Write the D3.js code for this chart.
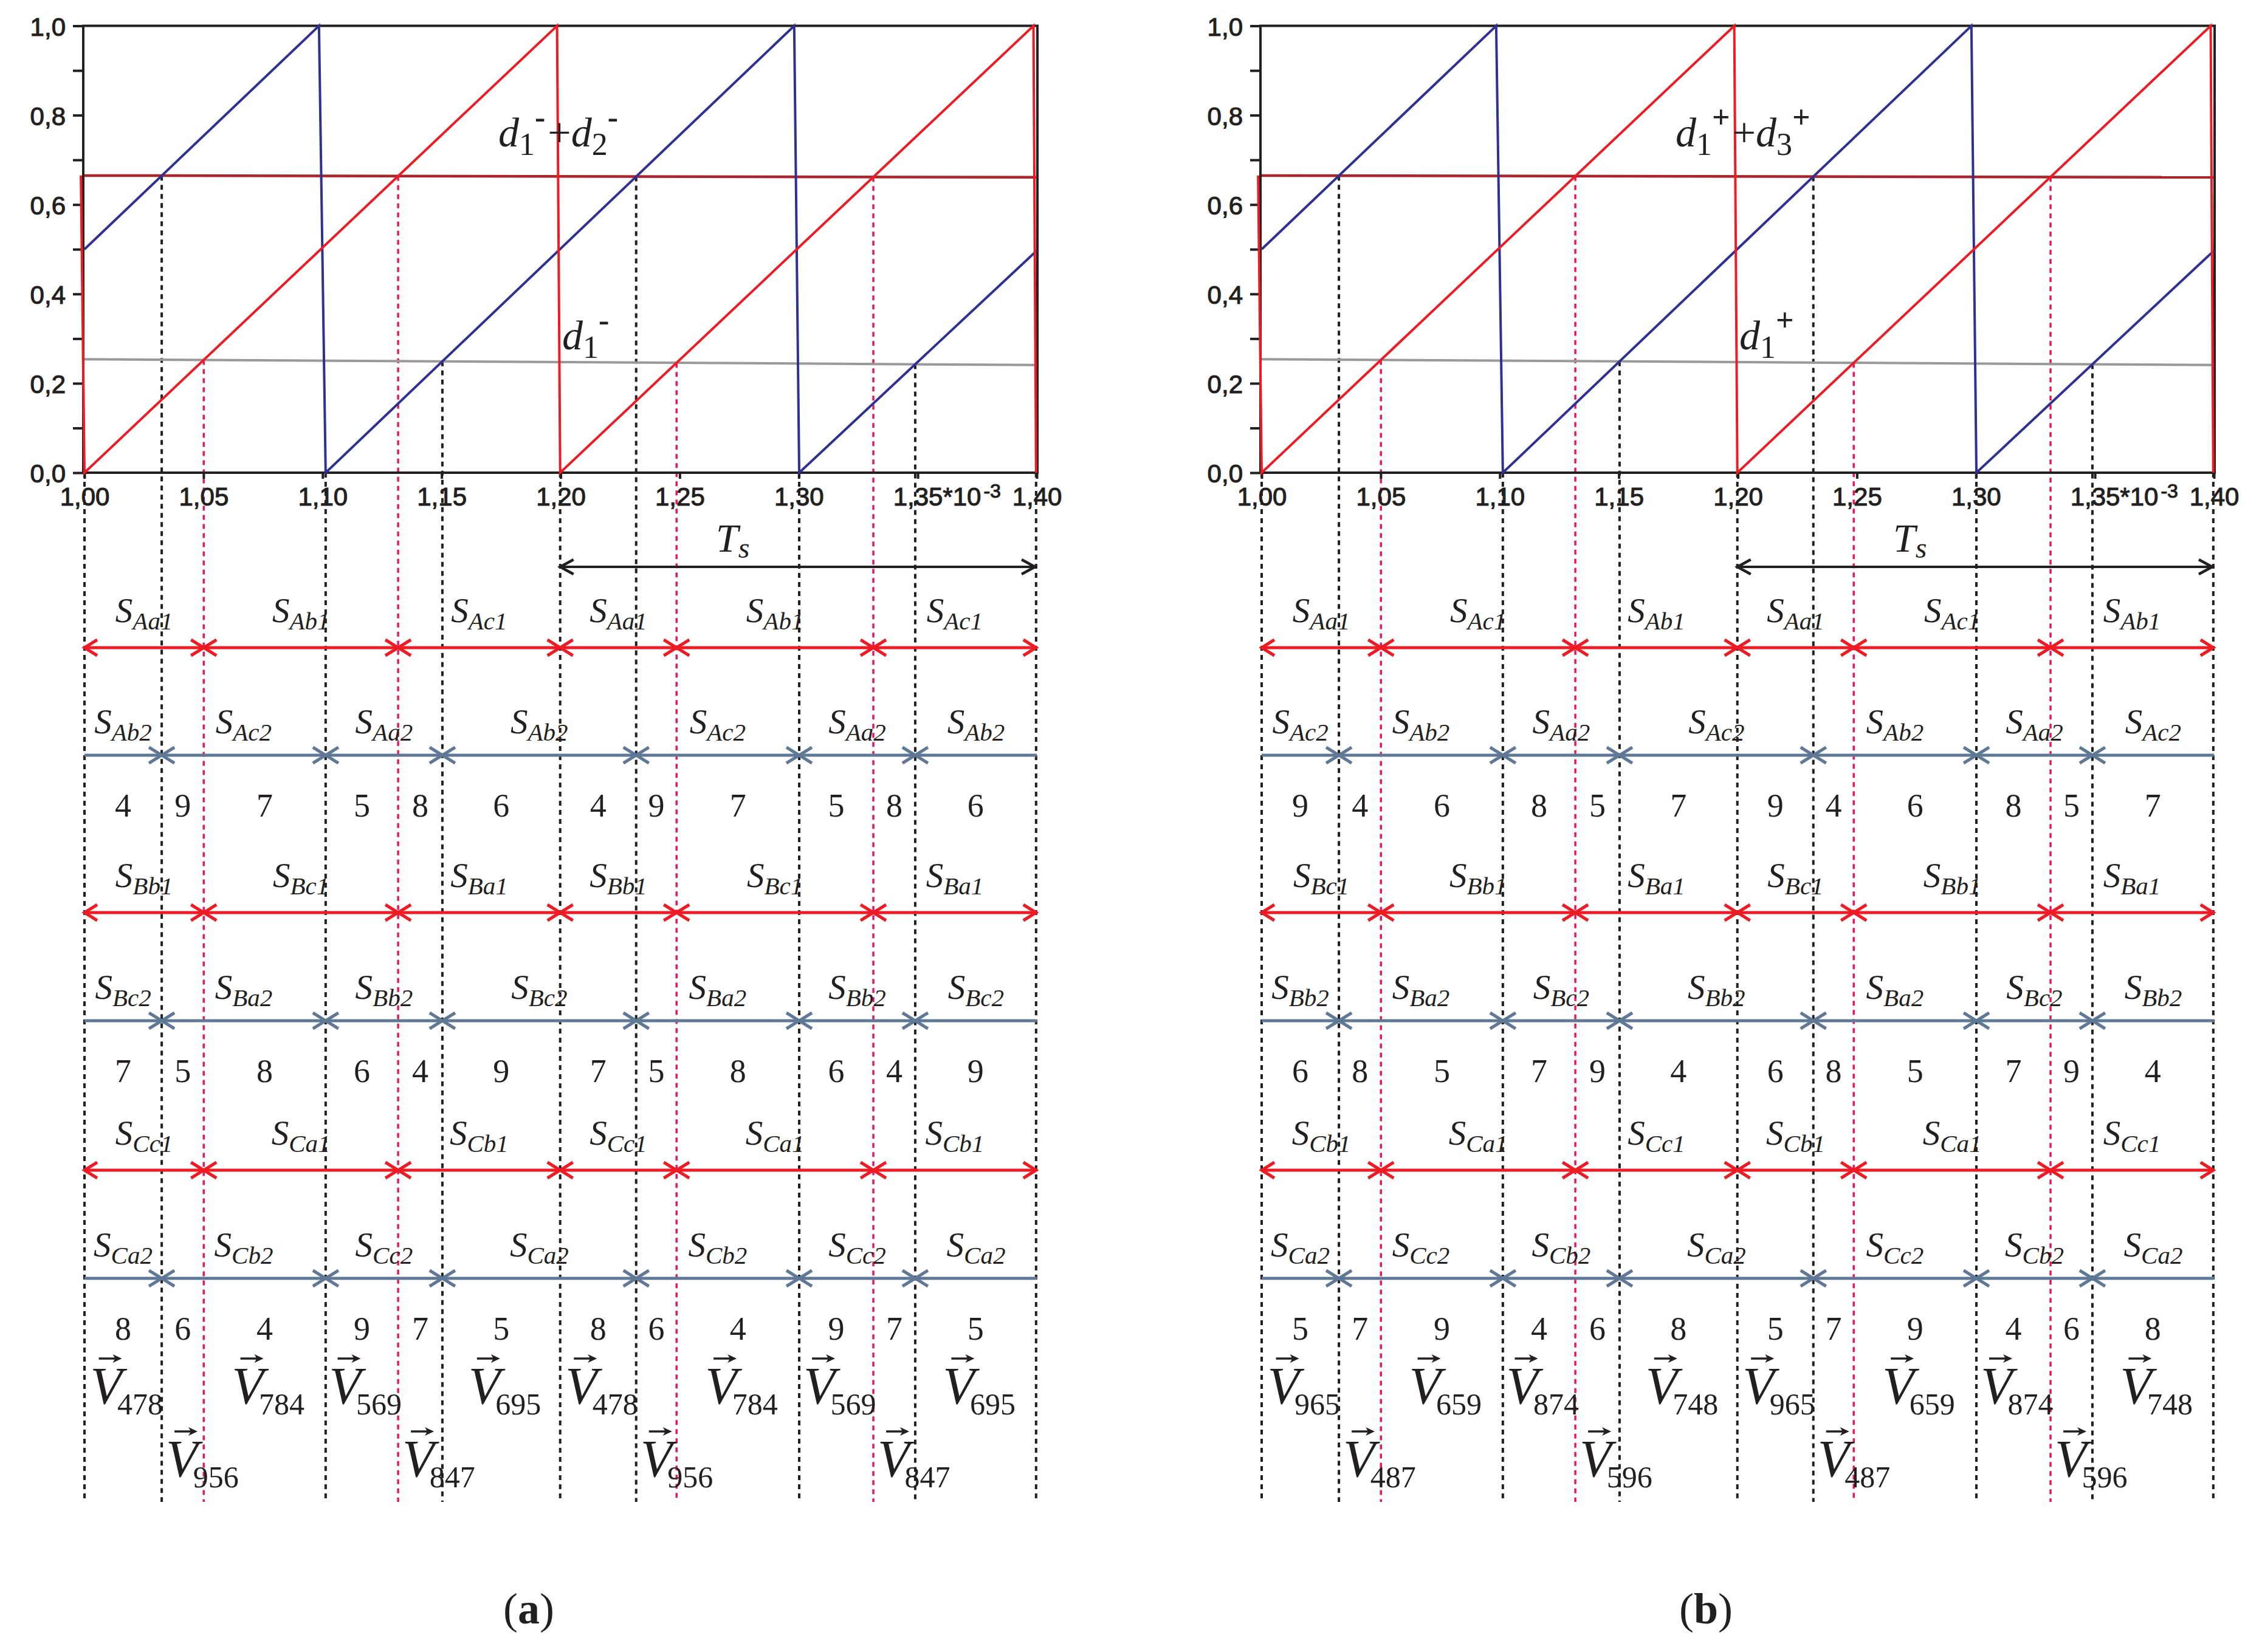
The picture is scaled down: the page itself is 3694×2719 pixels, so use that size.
<!DOCTYPE html>
<html>
<head>
<meta charset="utf-8">
<script src="https://cdn.jsdelivr.net/npm/d3@7"></script>
<style>
body { margin: 0; background: #fff; }
svg { display: block; }
text { fill: #231f20; }
</style>
</head>
<body>
<svg id="chart" width="3694" height="2719"></svg>
<script>
var svg = d3.select("#chart");

// axis ticks (time in ms x10^-3, duty value)
var xTicks = [1.00, 1.05, 1.10, 1.15, 1.20, 1.25, 1.30, 1.35, 1.40];
var yTicks = [0, 0.2, 0.4, 0.6, 0.8, 1.0];
var yMinor = [0.1, 0.3, 0.5, 0.7, 0.9];

// carriers and reference levels (same in both panels)
var redCarrier = [[0.9985, 0.665], [1.0, 0], [1.1985, 1], [1.1998, 0], [1.3986, 1], [1.3997, 0]];
var blueCarrier = [[1.0, 0.5], [1.0985, 1], [1.1013, 0], [1.2981, 1], [1.3002, 0], [1.4, 0.497]];
var sumLevel = [[1.0, 0.665], [1.4, 0.661]];
var d1Level = [[1.0, 0.254], [1.4, 0.241]];

// panel (a) switching states
var aRowA1 = ["Aa1", "Ab1", "Ac1", "Aa1", "Ab1", "Ac1"];
var aRowA2 = ["Ab2", "Ac2", "Aa2", "Ab2", "Ac2", "Aa2", "Ab2"];
var aRowB1 = ["Bb1", "Bc1", "Ba1", "Bb1", "Bc1", "Ba1"];
var aRowB2 = ["Bc2", "Ba2", "Bb2", "Bc2", "Ba2", "Bb2", "Bc2"];
var aRowC1 = ["Cc1", "Ca1", "Cb1", "Cc1", "Ca1", "Cb1"];
var aRowC2 = ["Ca2", "Cb2", "Cc2", "Ca2", "Cb2", "Cc2", "Ca2"];
var aNumA = [4, 9, 7, 5, 8, 6, 4, 9, 7, 5, 8, 6];
var aNumB = [7, 5, 8, 6, 4, 9, 7, 5, 8, 6, 4, 9];
var aNumC = [8, 6, 4, 9, 7, 5, 8, 6, 4, 9, 7, 5];

// panel (b) switching states
var bRowA1 = ["Aa1", "Ac1", "Ab1", "Aa1", "Ac1", "Ab1"];
var bRowA2 = ["Ac2", "Ab2", "Aa2", "Ac2", "Ab2", "Aa2", "Ac2"];
var bRowB1 = ["Bc1", "Bb1", "Ba1", "Bc1", "Bb1", "Ba1"];
var bRowB2 = ["Bb2", "Ba2", "Bc2", "Bb2", "Ba2", "Bc2", "Bb2"];
var bRowC1 = ["Cb1", "Ca1", "Cc1", "Cb1", "Ca1", "Cc1"];
var bRowC2 = ["Ca2", "Cc2", "Cb2", "Ca2", "Cc2", "Cb2", "Ca2"];
var bNumA = [9, 4, 6, 8, 5, 7, 9, 4, 6, 8, 5, 7];
var bNumB = [6, 8, 5, 7, 9, 4, 6, 8, 5, 7, 9, 4];
var bNumC = [5, 7, 9, 4, 6, 8, 5, 7, 9, 4, 6, 8];

var RED = "#ed1c24", NAVY = "#2e3192", DARKRED = "#ab252c", GREY = "#999999",
    SLATE = "#5f7896", PINK = "#e8175d", INK = "#231f20";
var SERIF = "'Liberation Serif', 'Times New Roman', serif";
var SANS = "'Liberation Sans', Arial, sans-serif";

var plotTop = 42.5, plotBottom = 778, plotWidth = 1567;
var guideBottom = 2472;
var tsY = 933;
var redRowY = [1066, 1502, 1926];
var greyRowY = [1243, 1680, 2104];
var vRowY = [2310, 2430];
var tStart = 1.0, tEnd = 1.4;

var loc = d3.formatLocale({decimal: ",", thousands: ".", grouping: [3], currency: ["", ""]});
var fmtY = loc.format(".1f"), fmtX = loc.format(".2f");

function levelAt(level, t) {
    return level[0][1] + (level[1][1] - level[0][1]) * (t - level[0][0]) / (level[1][0] - level[0][0]);
}

// times where a rising ramp of the carrier meets a reference level
function crossings(carrier, level) {
    var out = [];
    for (var i = 0; i < carrier.length - 1; i++) {
        var p = carrier[i], q = carrier[i + 1];
        if (q[1] <= p[1]) continue;
        var f0 = p[1] - levelAt(level, p[0]), f1 = q[1] - levelAt(level, q[0]);
        if (f0 <= 0 && f1 > 0) {
            var t = p[0] + f0 / (f0 - f1) * (q[0] - p[0]);
            out.push({t: t, v: levelAt(level, t)});
        }
    }
    return out;
}

// falling edges of the carrier
function resets(carrier) {
    var out = [];
    for (var i = 0; i < carrier.length - 1; i++) {
        if (carrier[i + 1][1] < carrier[i][1]) out.push({t: carrier[i + 1][0], v: 0});
    }
    return out;
}

function uniq(ts) {
    var out = [];
    ts.slice().sort(d3.ascending).forEach(function (t) {
        if (!out.length || t - out[out.length - 1] > 0.003) out.push(t);
    });
    return out;
}
function times(list) { return list.map(function (d) { return d.t; }); }

var redCross = crossings(redCarrier, d1Level).concat(crossings(redCarrier, sumLevel));
var blueCross = crossings(blueCarrier, d1Level).concat(crossings(blueCarrier, sumLevel));
var redReset = resets(redCarrier), blueReset = resets(blueCarrier);

var redBounds = uniq(times(redReset).concat(times(redCross)));
var greyBounds = uniq([tStart, tEnd].concat(times(blueReset), times(blueCross)));
var allBounds = uniq(redBounds.concat(greyBounds));

function arrowHead(g, x, y, dir, color, w, len, half) {
    g.append("path")
        .attr("d", "M" + (x - dir * len) + "," + (y - half) + "L" + x + "," + y + "L" + (x - dir * len) + "," + (y + half))
        .attr("fill", "none").attr("stroke", color).attr("stroke-width", w)
        .attr("stroke-linejoin", "miter");
}

function sLabel(g, cx, by, sub) {
    var t = g.append("text").attr("x", cx).attr("y", by).attr("text-anchor", "middle")
        .style("font-family", SERIF).style("font-style", "italic");
    t.append("tspan").style("font-size", "57px").text("S");
    t.append("tspan").attr("dy", 12).style("font-size", "41px").text(sub);
}

function dLabel(g, x, by, subs, sign) {
    var t = g.append("text").attr("x", x).attr("y", by)
        .style("font-family", SERIF).style("font-size", "68px");
    subs.forEach(function (k, i) {
        if (i) t.append("tspan").attr("dy", 31).attr("dx", 4).text("+");
        t.append("tspan").style("font-style", "italic").text("d");
        t.append("tspan").attr("dy", 14).style("font-size", "52px").text(k);
        t.append("tspan").attr("dy", -45).style("font-size", "52px").style("font-weight", "bold").text(sign);
    });
}

function drawPanel(left, caption, rowsRed, rowsGrey, nums, sign, sumSubs) {
    var x = d3.scaleLinear().domain([tStart, tEnd]).range([left, left + plotWidth]);
    var y = d3.scaleLinear().domain([0, 1]).range([plotBottom, plotTop]);
    var g = svg.append("g");

    // vertical guides from the crossings / carrier edges down to the bottom
    var guides = [];
    uniq(greyBounds.concat(times(redReset))).forEach(function (t) {
        var c = blueCross.filter(function (d) { return Math.abs(d.t - t) < 0.003; })[0];
        guides.push({t: t, y0: c ? y(c.v) : plotBottom, color: INK, w: 4});
    });
    redCross.forEach(function (d) {
        guides.push({t: d.t, y0: y(d.v), color: PINK, w: 3.5});
    });
    g.append("g").selectAll("line").data(guides).enter().append("line")
        .attr("x1", function (d) { return x(d.t); })
        .attr("x2", function (d) { return x(d.t); })
        .attr("y1", function (d) { return d.y0; })
        .attr("y2", guideBottom)
        .attr("stroke", function (d) { return d.color; })
        .attr("stroke-width", function (d) { return d.w; })
        .attr("stroke-dasharray", "8,7");

    // axes
    var yAxis = g.append("g").attr("transform", "translate(" + (left - 2) + ",0)")
        .call(d3.axisLeft(y).tickValues(yTicks).tickSize(17).tickPadding(12).tickFormat(fmtY));
    g.append("g").attr("transform", "translate(" + (left - 2) + ",0)")
        .call(d3.axisLeft(y).tickValues(yMinor).tickSize(17).tickFormat(""));
    var xAxis = g.append("g").attr("transform", "translate(0," + plotBottom + ")")
        .call(d3.axisBottom(x).tickValues(xTicks).tickSize(10).tickPadding(14).tickFormat(fmtX));
    g.selectAll(".domain").remove();
    g.selectAll(".tick line").attr("stroke", INK).attr("stroke-width", 4);
    g.selectAll(".tick text").style("font-family", SANS).style("font-size", "42px")
        .style("stroke", INK).style("stroke-width", "1.1px");
    yAxis.selectAll(".tick text").attr("dy", "0.38em");

    xAxis.selectAll(".tick text").filter(function (d) { return Math.abs(d - 1.35) < 1e-9; })
        .attr("text-anchor", "start").attr("x", -41)
        .each(function () {
            var el = d3.select(this);
            el.text(null);
            el.append("tspan").text("1,35*10");
            el.append("tspan").attr("dx", 4).attr("dy", -13).style("font-size", "32px").text("-3");
        });

    g.append("rect")
        .attr("x", left - 2).attr("y", plotTop)
        .attr("width", plotWidth + 3).attr("height", plotBottom - plotTop)
        .attr("fill", "none").attr("stroke", INK).attr("stroke-width", 4);

    // series
    var line = d3.line().x(function (d) { return x(d[0]); }).y(function (d) { return y(d[1]); });
    var series = [
        {data: sumLevel, color: DARKRED, w: 4.5},
        {data: d1Level, color: GREY, w: 4},
        {data: blueCarrier, color: NAVY, w: 4},
        {data: redCarrier, color: RED, w: 4}
    ];
    g.append("g").selectAll("path").data(series).enter().append("path")
        .attr("d", function (d) { return line(d.data); })
        .attr("fill", "none")
        .attr("stroke", function (d) { return d.color; })
        .attr("stroke-width", function (d) { return d.w; });

    dLabel(g, left + 681, 241, sumSubs, sign);
    dLabel(g, left + 786, 575, ["1"], sign);

    // Ts period arrow
    var ts0 = x(redBounds[3]), ts1 = x(tEnd) - 3;
    g.append("line").attr("x1", ts0).attr("x2", ts1).attr("y1", tsY).attr("y2", tsY)
        .attr("stroke", INK).attr("stroke-width", 4);
    arrowHead(g, ts0, tsY, -1, INK, 4.5, 22, 12);
    arrowHead(g, ts1, tsY, 1, INK, 4.5, 22, 12);
    var tsText = g.append("text").attr("x", ts0 + 0.328 * (ts1 - ts0)).attr("y", 908)
        .style("font-family", SERIF).style("font-style", "italic");
    tsText.append("tspan").style("font-size", "66px").text("T");
    tsText.append("tspan").attr("dy", 10).style("font-size", "48px").text("s");

    // switching rows: red (upper switches), slate (lower switches)
    for (var r = 0; r < 3; r++) {
        var ry = redRowY[r];
        for (var i = 0; i < redBounds.length - 1; i++) {
            var xa = x(redBounds[i]), xb = x(redBounds[i + 1]);
            g.append("line").attr("x1", xa).attr("x2", xb).attr("y1", ry).attr("y2", ry)
                .attr("stroke", RED).attr("stroke-width", 5);
            arrowHead(g, xa, ry, -1, RED, 5, 21, 13);
            arrowHead(g, xb, ry, 1, RED, 5, 21, 13);
            sLabel(g, (xa + xb) / 2, ry - 42, rowsRed[r][i]);
        }
        var gy = greyRowY[r];
        for (var j = 0; j < greyBounds.length - 1; j++) {
            var xc = x(greyBounds[j]), xd = x(greyBounds[j + 1]);
            g.append("line").attr("x1", xc).attr("x2", xd).attr("y1", gy).attr("y2", gy)
                .attr("stroke", SLATE).attr("stroke-width", 5);
            if (j > 0) arrowHead(g, xc, gy, -1, SLATE, 5, 21, 13);
            if (j < greyBounds.length - 2) arrowHead(g, xd, gy, 1, SLATE, 5, 21, 13);
            sLabel(g, (xc + xd) / 2, gy - 36, rowsGrey[r][j]);
        }
        nums[r].forEach(function (n, k) {
            g.append("text")
                .attr("x", (x(allBounds[k]) + x(allBounds[k + 1])) / 2)
                .attr("y", gy + 101)
                .attr("text-anchor", "middle")
                .style("font-family", SERIF).style("font-size", "54px")
                .text(n);
        });
    }

    // voltage vectors, subscript built from the three phase states
    nums[0].forEach(function (n, k) {
        var xa = x(allBounds[k]), xb = x(allBounds[k + 1]);
        var narrow = (xb - xa) < 100;
        var xs = narrow ? xa + 7 : (xa + xb) / 2 - 54;
        var by = narrow ? vRowY[1] : vRowY[0];
        var t = g.append("text").attr("x", xs).attr("y", by)
            .style("font-family", SERIF);
        t.append("tspan").style("font-style", "italic").style("font-size", "86px").text("V");
        t.append("tspan").attr("dx", -8).attr("dy", 18).style("font-size", "50px")
            .text("" + n + nums[1][k] + nums[2][k]);
        var ay = by - 74;
        g.append("line").attr("x1", xs + 14).attr("x2", xs + 46).attr("y1", ay).attr("y2", ay)
            .attr("stroke", INK).attr("stroke-width", 3.5);
        g.append("path")
            .attr("d", "M" + (xs + 52) + "," + ay + "L" + (xs + 37) + "," + (ay - 7) + "L" + (xs + 41) + "," + ay + "L" + (xs + 37) + "," + (ay + 7) + "Z")
            .attr("fill", INK);
    });

    var cap = g.append("text").attr("x", left + 731).attr("y", 2672).attr("text-anchor", "middle")
        .style("font-family", SERIF).style("font-size", "72px");
    cap.append("tspan").text("(");
    cap.append("tspan").style("font-weight", "bold").text(caption);
    cap.append("tspan").text(")");
}

drawPanel(139, "a", [aRowA1, aRowB1, aRowC1], [aRowA2, aRowB2, aRowC2], [aNumA, aNumB, aNumC], "-", ["1", "2"]);
drawPanel(2076, "b", [bRowA1, bRowB1, bRowC1], [bRowA2, bRowB2, bRowC2], [bNumA, bNumB, bNumC], "+", ["1", "3"]);
</script>
</body>
</html>
